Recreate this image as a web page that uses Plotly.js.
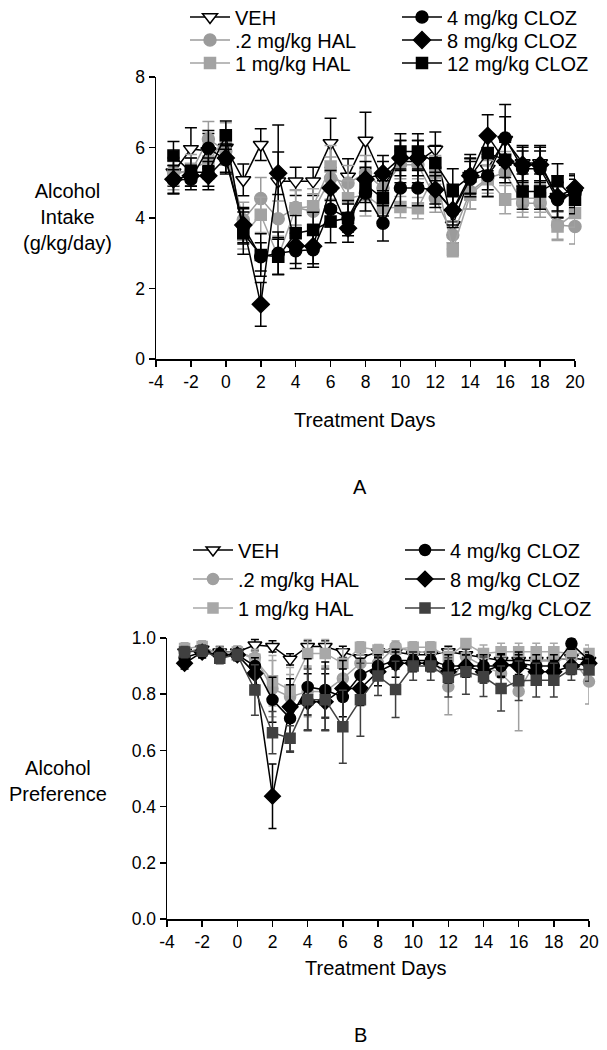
<!DOCTYPE html>
<html>
<head>
<meta charset="utf-8">
<script src="https://cdn.plot.ly/plotly-3.0.1.min.js"></script>
<style>html,body{margin:0;padding:0;background:#fff;}#chart{width:607px;height:1050px;}</style>
</head>
<body>
<div id="chart"></div>
<script>
// ---------- data ----------
const days = [-3,-2,-1,0,1,2,3,4,5,6,7,8,9,10,11,12,13,14,15,16,17,18,19,20];
const seriesNames = ["VEH", ".2 mg/kg HAL", "1 mg/kg HAL", "4 mg/kg CLOZ", "8 mg/kg CLOZ", "12 mg/kg CLOZ"];
const xTickVals = [-4,-2,0,2,4,6,8,10,12,14,16,18,20];
const xTickText = ["-4","-2","0","2","4","6","8","10","12","14","16","18","20"];

// Panel A: Alcohol intake (g/kg/day)
const intakeVEH    = [5.3,5.96,5.9,6.0,5.08,6.08,5.04,5.04,5.04,6.13,5.18,6.2,5.1,5.6,5.6,5.94,3.8,5.2,5.4,6.22,5.56,5.56,4.6,4.7];
const intakeHAL02  = [5.32,5.3,6.24,5.9,3.95,4.55,3.98,4.3,4.19,5.13,4.99,5.27,4.85,5.51,5.51,4.56,3.52,4.75,5.13,5.29,4.42,4.42,3.8,3.76];
const intakeHAL1   = [5.2,5.4,5.6,6.3,3.52,4.09,2.9,4.28,4.33,5.46,4.56,4.66,4.28,4.31,4.28,5.27,3.1,4.66,5.1,4.52,4.56,4.56,3.76,4.14];
const intakeCLOZ4  = [5.08,5.1,5.98,5.65,3.76,2.9,3.0,3.07,3.1,4.25,4.0,4.7,3.85,4.85,4.85,4.8,4.2,5.1,5.2,6.27,5.4,5.4,4.52,4.7];
const intakeCLOZ8  = [5.1,5.2,5.2,5.7,3.8,1.55,5.27,3.21,3.2,4.85,3.71,5.1,5.27,5.7,5.7,4.8,4.23,5.2,6.33,5.6,5.51,5.51,4.6,4.85];
const intakeCLOZ12 = [5.77,5.3,5.3,6.35,3.57,2.95,2.9,3.57,3.66,3.9,4.0,4.94,4.56,5.89,5.89,5.56,4.8,5.18,5.84,5.65,4.75,4.75,5.04,4.52];

const intakeErrVEH    = [0.4,0.6,0.5,0.5,0.45,0.45,1.6,0.4,0.4,0.7,0.5,0.8,0.5,0.6,0.6,0.5,0.5,0.6,0.6,1.0,0.5,0.5,0.6,0.5];
const intakeErrHAL02  = [0.4,0.4,0.5,0.4,0.5,0.6,0.5,0.5,0.5,0.6,0.5,0.5,0.4,0.4,0.4,0.4,0.4,0.5,0.5,0.6,0.4,0.4,0.4,0.5];
const intakeErrHAL1   = [0.4,0.4,0.5,0.4,0.4,0.5,0.5,0.5,0.5,0.6,0.5,0.6,0.4,0.3,0.3,0.5,0.2,0.4,0.4,0.4,0.4,0.4,0.4,0.4];
const intakeErrCLOZ4  = [0.4,0.3,0.5,0.4,0.5,0.4,0.6,0.5,0.5,0.5,0.4,0.5,0.5,0.5,0.5,0.4,0.4,0.5,0.6,0.6,0.5,0.5,0.5,0.4];
const intakeErrCLOZ8  = [0.4,0.3,0.4,0.4,0.5,0.62,0.6,0.5,0.5,0.5,0.4,0.5,0.5,0.5,0.5,0.5,0.5,0.5,0.6,0.6,0.5,0.5,0.4,0.4];
const intakeErrCLOZ12 = [0.4,0.4,0.4,0.4,0.6,0.6,0.5,0.5,0.5,0.6,0.5,0.5,0.5,0.5,0.5,0.5,0.6,0.5,0.5,0.5,0.5,0.5,0.5,0.4];

// Panel B: Alcohol preference
const prefVEH    = [0.95,0.96,0.95,0.95,0.975,0.97,0.924,0.97,0.97,0.951,0.93,0.95,0.95,0.94,0.94,0.951,0.94,0.93,0.92,0.92,0.92,0.92,0.93,0.92];
const prefHAL02  = [0.95,0.96,0.948,0.95,0.93,0.82,0.79,0.81,0.81,0.856,0.91,0.91,0.969,0.95,0.95,0.827,0.934,0.9,0.874,0.81,0.92,0.92,0.93,0.845];
const prefHAL1   = [0.963,0.97,0.94,0.95,0.924,0.848,0.815,0.945,0.945,0.91,0.967,0.957,0.96,0.967,0.967,0.934,0.98,0.945,0.951,0.951,0.951,0.951,0.945,0.945];
const prefCLOZ4  = [0.93,0.95,0.94,0.94,0.9,0.78,0.714,0.826,0.815,0.79,0.868,0.9,0.92,0.92,0.92,0.9,0.9,0.9,0.9,0.91,0.9,0.9,0.98,0.92];
const prefCLOZ8  = [0.91,0.95,0.94,0.94,0.874,0.437,0.755,0.773,0.773,0.82,0.82,0.88,0.91,0.91,0.91,0.88,0.9,0.88,0.904,0.9,0.88,0.88,0.9,0.91];
const prefCLOZ12 = [0.95,0.955,0.928,0.94,0.815,0.663,0.643,0.78,0.78,0.684,0.78,0.865,0.817,0.9,0.9,0.86,0.88,0.862,0.82,0.848,0.85,0.85,0.89,0.886];

const prefErrVEH    = [0.02,0.02,0.02,0.02,0.02,0.02,0.02,0.02,0.02,0.02,0.02,0.02,0.02,0.02,0.02,0.02,0.02,0.02,0.02,0.02,0.02,0.02,0.02,0.02];
const prefErrHAL02  = [0.02,0.02,0.02,0.02,0.03,0.1,0.08,0.09,0.09,0.05,0.03,0.03,0.02,0.02,0.02,0.1,0.03,0.04,0.05,0.14,0.03,0.03,0.03,0.08];
const prefErrHAL1   = [0.02,0.02,0.02,0.02,0.03,0.09,0.08,0.05,0.05,0.05,0.02,0.02,0.02,0.02,0.02,0.03,0.02,0.03,0.03,0.03,0.03,0.03,0.03,0.03];
const prefErrCLOZ4  = [0.02,0.02,0.02,0.02,0.03,0.08,0.12,0.1,0.1,0.1,0.06,0.04,0.03,0.03,0.03,0.04,0.04,0.04,0.04,0.04,0.04,0.04,0.02,0.03];
const prefErrCLOZ8  = [0.02,0.02,0.02,0.02,0.04,0.115,0.1,0.1,0.1,0.1,0.06,0.05,0.05,0.03,0.03,0.04,0.04,0.04,0.04,0.04,0.04,0.04,0.03,0.03];
const prefErrCLOZ12 = [0.02,0.02,0.02,0.02,0.09,0.075,0.045,0.11,0.11,0.13,0.13,0.07,0.1,0.05,0.05,0.07,0.08,0.07,0.08,0.07,0.06,0.06,0.04,0.04];

// ---------- styles ----------
const styleA = [
  {symbol:"triangle-down", fill:"#ffffff", line:"#000000", color:"#000000", size:13},
  {symbol:"circle", fill:"#9b9b9b", line:"#9b9b9b", color:"#9b9b9b", size:12},
  {symbol:"square", fill:"#a3a3a3", line:"#a3a3a3", color:"#a3a3a3", size:11},
  {symbol:"circle", fill:"#000000", line:"#000000", color:"#000000", size:12},
  {symbol:"diamond", fill:"#000000", line:"#000000", color:"#000000", size:13},
  {symbol:"square", fill:"#000000", line:"#000000", color:"#000000", size:11}
];
const styleB = [
  {symbol:"triangle-down", fill:"#ffffff", line:"#000000", color:"#000000", size:12},
  {symbol:"circle", fill:"#a0a0a0", line:"#a0a0a0", color:"#a0a0a0", size:11},
  {symbol:"square", fill:"#a8a8a8", line:"#a8a8a8", color:"#a8a8a8", size:10},
  {symbol:"circle", fill:"#000000", line:"#000000", color:"#000000", size:11},
  {symbol:"diamond", fill:"#000000", line:"#000000", color:"#000000", size:12},
  {symbol:"square", fill:"#404040", line:"#404040", color:"#404040", size:10}
];

const intakeSeries = [intakeVEH, intakeHAL02, intakeHAL1, intakeCLOZ4, intakeCLOZ8, intakeCLOZ12];
const intakeErrs = [intakeErrVEH, intakeErrHAL02, intakeErrHAL1, intakeErrCLOZ4, intakeErrCLOZ8, intakeErrCLOZ12];
const prefSeries = [prefVEH, prefHAL02, prefHAL1, prefCLOZ4, prefCLOZ8, prefCLOZ12];
const prefErrs = [prefErrVEH, prefErrHAL02, prefErrHAL1, prefErrCLOZ4, prefErrCLOZ8, prefErrCLOZ12];

// legend rows: series i goes in row (i % 3)
const rowLegendsA = ["legend", "legend2", "legend3"];
const rowLegendsB = ["legend4", "legend5", "legend6"];
const ITEMW = 40;
const COLGAP = 212;

function makeTrace(i, ys, errs, st, xa, ya, legendId, capW) {
  return {
    type: "scatter", mode: "lines+markers",
    x: days, y: ys, name: seriesNames[i],
    xaxis: xa, yaxis: ya, legend: legendId,
    legendwidth: i < 3 ? COLGAP - (ITEMW + 10) - 5 : 140,
    cliponaxis: false,
    line: {color: st.color, width: 1.5},
    marker: {symbol: st.symbol, size: st.size, color: st.fill, line: {color: st.line, width: 1.5}},
    error_y: {type: "data", array: errs, visible: true, color: st.color, thickness: 1.5, width: capW}
  };
}

const traces = [];
for (let i = 0; i < 6; i++) {
  traces.push(makeTrace(i, intakeSeries[i], intakeErrs[i], styleA[i], "x", "y", rowLegendsA[i % 3], 6));
}
for (let i = 0; i < 6; i++) {
  traces.push(makeTrace(i, prefSeries[i], prefErrs[i], styleB[i], "x2", "y2", rowLegendsB[i % 3], 4));
}

const FONT = "Arial, 'Liberation Sans', sans-serif";
const W = 607, H = 1050;
const px = v => v / W;
const py = v => 1 - v / H;

function xAxis(domain, anchor) {
  return {domain: domain, anchor: anchor, range: [-4, 20], tickmode: "array", tickvals: xTickVals, ticktext: xTickText,
    showline: true, linecolor: "#000", linewidth: 1.5, ticks: "outside", ticklen: 6, tickwidth: 1.5,
    tickcolor: "#000", showgrid: false, zeroline: false, tickfont: {family: FONT, size: 17.5, color: "#000"}};
}
function yAxis(domain, anchor, range, dtick, fmt) {
  return {domain: domain, anchor: anchor, range: range, dtick: dtick, tick0: 0, tickformat: fmt,
    showline: true, linecolor: "#000", linewidth: 1.5, ticks: "outside", ticklen: 6, tickwidth: 1.5,
    tickcolor: "#000", showgrid: false, zeroline: false, tickfont: {family: FONT, size: 17.5, color: "#000"}};
}
// one horizontal legend per row; per-trace legendwidth places the second column
function rowLegend(x, rowY) {
  return {orientation: "h", x: px(x), y: py(rowY - 19.5), xanchor: "left", yanchor: "top",
    bgcolor: "rgba(0,0,0,0)", font: {family: FONT, size: 20, color: "#000"},
    itemwidth: ITEMW, entrywidthmode: "pixels", traceorder: "normal"};
}

const layout = {
  width: W, height: H,
  margin: {l: 0, r: 0, t: 0, b: 0, autoexpand: false},
  paper_bgcolor: "#fff", plot_bgcolor: "#fff",
  font: {family: FONT, color: "#000"},
  showlegend: true,
  xaxis: xAxis([px(156), px(575)], "y"),
  yaxis: yAxis([py(359), py(77)], "x", [0, 8], 2, ""),
  xaxis2: xAxis([px(167), px(589)], "y2"),
  yaxis2: yAxis([py(919), py(638)], "x2", [0, 1], 0.2, ".1f"),
  legend:  rowLegend(185, 17),
  legend2: rowLegend(185, 40),
  legend3: rowLegend(185, 63),
  legend4: rowLegend(188, 550),
  legend5: rowLegend(188, 579),
  legend6: rowLegend(188, 608),
  annotations: [
    {text: "Alcohol<br>Intake<br>(g/kg/day)", x: px(67), y: py(217), xref: "paper", yref: "paper",
     xanchor: "center", yanchor: "middle",
     showarrow: false, font: {family: FONT, size: 20, color: "#000"}, align: "center"},
    {text: "Treatment Days", x: px(365), y: py(420), xref: "paper", yref: "paper",
     xanchor: "center", yanchor: "middle",
     showarrow: false, font: {family: FONT, size: 20, color: "#000"}},
    {text: "A", x: px(360), y: py(487), xref: "paper", yref: "paper",
     xanchor: "center", yanchor: "middle",
     showarrow: false, font: {family: FONT, size: 20, color: "#000"}},
    {text: "Alcohol<br>Preference", x: px(58), y: py(781), xref: "paper", yref: "paper",
     xanchor: "center", yanchor: "middle",
     showarrow: false, font: {family: FONT, size: 20, color: "#000"}, align: "center"},
    {text: "Treatment Days", x: px(376), y: py(968), xref: "paper", yref: "paper",
     xanchor: "center", yanchor: "middle",
     showarrow: false, font: {family: FONT, size: 20, color: "#000"}},
    {text: "B", x: px(360), y: py(1035), xref: "paper", yref: "paper",
     xanchor: "center", yanchor: "middle",
     showarrow: false, font: {family: FONT, size: 20, color: "#000"}}
  ]
};

Plotly.newPlot("chart", traces, layout, {displayModeBar: false, staticPlot: true});
</script>
</body>
</html>
